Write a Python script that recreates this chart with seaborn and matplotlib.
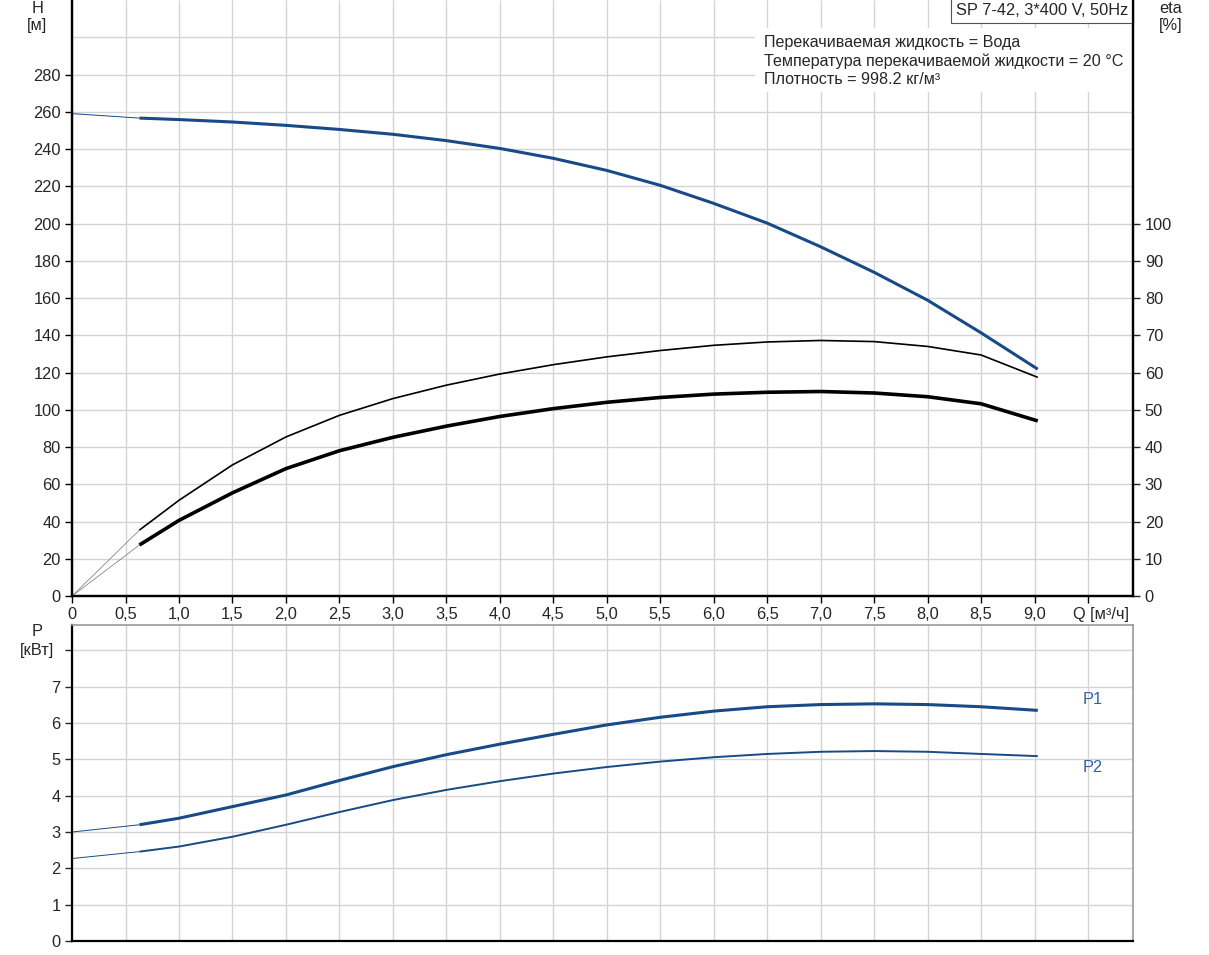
import matplotlib
matplotlib.use("Agg")
import matplotlib.pyplot as plt
from matplotlib.patches import Rectangle
import numpy as np
import pandas as pd
import seaborn as sns

# pump curve data (Q in m3/h)
q = [0.63, 1.0, 1.5, 2.0, 2.5, 3.0, 3.5, 4.0, 4.5, 5.0, 5.5, 6.0, 6.5, 7.0, 7.5, 8.0, 8.5, 9.03]
head = [256.6, 255.8, 254.5, 252.7, 250.5, 247.9, 244.5, 240.3, 235.0, 228.5, 220.5, 210.8, 200.2, 187.5, 173.8, 158.8, 141.3, 121.8]
eta_total = [17.7, 25.7, 35.2, 42.7, 48.5, 53.0, 56.6, 59.6, 62.1, 64.2, 65.9, 67.3, 68.2, 68.6, 68.3, 67.0, 64.7, 58.7]
eta_pump = [13.7, 20.3, 27.7, 34.2, 39.0, 42.6, 45.6, 48.2, 50.3, 52.0, 53.3, 54.2, 54.7, 54.9, 54.5, 53.5, 51.6, 47.0]
p1 = [3.20, 3.38, 3.70, 4.02, 4.42, 4.80, 5.13, 5.42, 5.69, 5.95, 6.16, 6.33, 6.45, 6.51, 6.53, 6.51, 6.45, 6.35]
p2 = [2.46, 2.60, 2.87, 3.20, 3.55, 3.88, 4.16, 4.40, 4.61, 4.79, 4.94, 5.06, 5.15, 5.21, 5.23, 5.21, 5.15, 5.09]
# values at Q = 0 (thin extension lines)
head0, eta0, p10, p20 = 259.0, 0.0, 3.0, 2.27

xticks = [i * 0.5 for i in range(20)]
xticklabels = ["0"] + [f"{t:.1f}".replace(".", ",") for t in xticks[1:19]] + [""]
qlabel = "Q [м³/ч]"

title = "SP 7-42, 3*400 V, 50Hz"
info = ["Перекачиваемая жидкость = Вода",
        "Температура перекачиваемой жидкости = 20 °C",
        "Плотность = 998.2 кг/м³"]

sns.set_style("white")
plt.rcParams['font.family'] = ['Liberation Sans', 'DejaVu Sans']
plt.rcParams['font.size'] = 12
plt.rcParams['lines.solid_joinstyle'] = 'round'
plt.rcParams['lines.solid_capstyle'] = 'butt'

blue = '#174a86'
grid_c = '#d4d4d4'
fs = 11.8

df = pd.DataFrame({"Q": q, "H": head, "eta_tot": eta_total, "eta_p": eta_pump, "P1": p1, "P2": p2})

fig = plt.figure(figsize=(12.09, 9.55), dpi=100)
ax = fig.add_axes([0.0596, 0.3759, 0.8775, 0.6241])
ax2 = ax.twinx()
axp = fig.add_axes([0.0596, 0.0147, 0.8775, 0.3308])

xmax = 9.92
# ---- top panel: head
ax.set_xlim(0, xmax)
ax.set_ylim(0, 320)
ax.set_yticks(range(0, 281, 20))
ax.set_yticks([300], minor=True)
ax.tick_params(axis='y', which='minor', length=0)
ax.set_xticks(xticks)
ax.set_xticklabels(xticklabels)
ax.grid(True, which='both', color=grid_c, lw=1)
ax.set_axisbelow(True)
ax.tick_params(direction='out', length=5, width=1, color='black', labelsize=fs, pad=3,
               left=True, bottom=True)
ax.annotate(qlabel, xy=(9.355, 0), xycoords=('data', 'axes fraction'),
            xytext=(0, -8), textcoords='offset points', ha='left', va='top', fontsize=fs)

# white area behind the info text
ax.add_patch(Rectangle((0.6437, 0.8456), 0.3563, 0.1074, transform=ax.transAxes,
                       fc='white', ec='none', zorder=1))

ax.plot([0, q[0]], [head0, head[0]], color=blue, lw=0.7)
sns.lineplot(data=df, x="Q", y="H", ax=ax, color=blue, lw=2.2)
ax.set_xlabel("")
ax.set_ylabel("")

ax2.set_ylim(0, 160)
ax2.set_yticks(range(0, 101, 10))
ax2.tick_params(direction='out', length=5, width=1, labelsize=fs, right=True)
ax2.plot([0, q[0]], [eta0, eta_total[0]], color='#888888', lw=0.6)
ax2.plot([0, q[0]], [eta0, eta_pump[0]], color='#888888', lw=0.6)
sns.lineplot(data=df, x="Q", y="eta_tot", ax=ax2, color='black', lw=1.2)
sns.lineplot(data=df, x="Q", y="eta_p", ax=ax2, color='black', lw=2.6)
ax2.set_ylabel("")
ax2.grid(False)

for a in (ax, ax2):
    a.spines['top'].set_visible(False)
    for s in ('left', 'bottom', 'right'):
        a.spines[s].set_color('black')
        a.spines[s].set_linewidth(1.6)

fig.text(0.031, 0.9915, "H", ha='center', va='center', fontsize=fs)
fig.text(0.031, 0.9735, "[м]", ha='center', va='center', fontsize=fs)
fig.text(0.968, 0.9915, "eta", ha='center', va='center', fontsize=fs)
fig.text(0.968, 0.9735, "[%]", ha='center', va='center', fontsize=fs)

ax.text(0.9955, 0.9955, title, transform=ax.transAxes, ha='right', va='top', fontsize=fs,
        bbox=dict(boxstyle='square,pad=0.3', fc='white', ec='#555555', lw=0.8), zorder=5)
ax.text(0.6525, 0.941, "\n".join(info), transform=ax.transAxes, ha='left', va='top',
        fontsize=11.6, linespacing=1.27, zorder=5)

# ---- bottom panel: power
axp.set_xlim(0, xmax)
axp.set_ylim(0, 8.7)
axp.set_yticks(range(0, 9))
axp.set_yticklabels([str(i) for i in range(8)] + [""])
axp.set_xticks(xticks)
axp.set_xticklabels([])
axp.grid(True, color=grid_c, lw=1)
axp.set_axisbelow(True)
axp.tick_params(axis='y', direction='out', length=5, width=1, labelsize=fs, left=True)
axp.tick_params(axis='x', length=0)
axp.plot([0, q[0]], [p10, p1[0]], color=blue, lw=0.7)
axp.plot([0, q[0]], [p20, p2[0]], color=blue, lw=0.7)
sns.lineplot(data=df, x="Q", y="P1", ax=axp, color=blue, lw=2.2)
sns.lineplot(data=df, x="Q", y="P2", ax=axp, color=blue, lw=1.4)
axp.set_xlabel("")
axp.set_ylabel("")
axp.text(9.54, 6.64, "P1", color='#2a66a8', fontsize=fs, va='center', ha='center')
axp.text(9.54, 4.77, "P2", color='#2a66a8', fontsize=fs, va='center', ha='center')
for s in ('left', 'bottom'):
    axp.spines[s].set_color('black')
    axp.spines[s].set_linewidth(1.6)
for s in ('top', 'right'):
    axp.spines[s].set_color('#999999')
    axp.spines[s].set_linewidth(1.2)

fig.text(0.031, 0.3385, "P", ha='center', va='center', fontsize=fs)
fig.text(0.031, 0.3185, "[кВт]", ha='center', va='center', fontsize=fs)

fig.savefig("out.png", dpi=100, facecolor='white')
